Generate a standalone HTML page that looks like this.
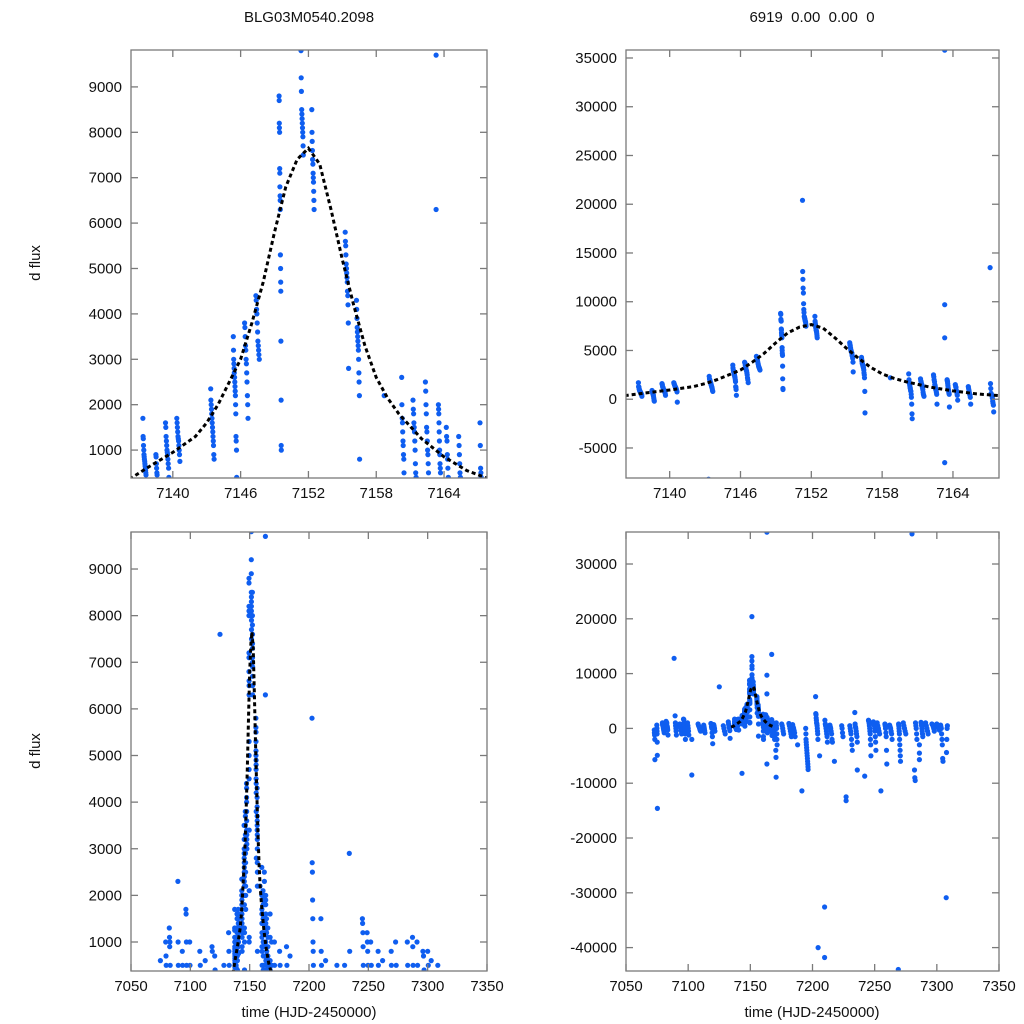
<!DOCTYPE html>
<html><head><meta charset="utf-8"><style>
html,body{margin:0;padding:0;background:#fff;width:1024px;height:1024px;overflow:hidden;}
svg{display:block;font-family:"Liberation Sans",Arial,sans-serif;overflow:hidden;}
</style></head><body>
<svg id="fig" width="1024" height="1024" viewBox="0 0 1024 1024" xmlns="http://www.w3.org/2000/svg">
<text x="309" y="22" text-anchor="middle" font-size="15" fill="#111">BLG03M0540.2098</text>
<text x="812" y="22" text-anchor="middle" font-size="15" fill="#111" xml:space="preserve">6919  0.00  0.00  0</text>
<text transform="translate(40,263) rotate(-90)" text-anchor="middle" font-size="15" fill="#111">d flux</text>
<text transform="translate(40,751) rotate(-90)" text-anchor="middle" font-size="15" fill="#111">d flux</text>
<text x="309" y="1017" text-anchor="middle" font-size="15" fill="#111">time (HJD-2450000)</text>
<text x="812" y="1017" text-anchor="middle" font-size="15" fill="#111">time (HJD-2450000)</text>
</svg>
<script>
// ---- data ----
const groupTime = [7137.5,7138.6,7139.5,7140.5,7143.3,7143.5,7145.5,7146.5,7147.5,7149.5,7151.4,7152.4,7155.4,7156.4,7158.7,7160.4,7161.4,7162.5,7163.3,7163.6,7164.3,7165.4,7167.3,
 7073,7075,7080,7083,7088.7,7090,7094,7097,7100,7102.9,7109,7113,7119,7121,7125,7129,7133,
 7169,7171,7176,7182,7185,7188,7191.5,7195.5,7203.5,7205.7,7209.7,7211,7215,7217.6,7224,7227,7231,7235,7236,7242,7246,7250,7253,7255,7259,7263,7269,7270,7274,7280,7283,7286,7288,7292,7297,7301,7304,7308];
const groupSpan = [0.3,0.2,0.3,0.3,0,0.3,0.3,0.3,0.3,0.2,0.3,0.2,0.3,0.3,0,0.3,0.3,0.3,0,0.2,0.2,0.2,0.3,
 0.5,0.5,1.5,1.5,0,1,1.5,1.5,1,0,2,1,1.5,1,0,1.5,1.5,
 1,1,1.5,2,2,0,0,2,2,0,0,2,2,0,1,0,2,2,0,0,2,2,2,0,1.5,2,0,1.5,2,0,2,0,1.5,2,2,2,2,1];
const groupFlux = [
 [1700,1300,1250,1100,1000,900,850,800,750,700,650,600,550,500,450,300],
 [900,850,700,600,500,450,300,100,-100,-200],
 [1600,1500,1300,1200,1100,1000,950,900,800,700,600,400],
 [1700,1600,1500,1400,1300,1250,1200,1100,1000,900,750,-300],
 [-8200],
 [2350,2100,2000,1900,1800,1700,1600,1500,1400,1300,1200,1100,900,800],
 [3500,3200,3000,2900,2800,2700,2600,2500,2400,2300,2200,2000,1800,1300,1200,1000,400],
 [3800,3700,3500,3300,3200,3000,2900,2700,2500,2200,2000,1700],
 [4400,4300,4100,4000,3800,3600,3400,3300,3200,3100,3000],
 [8800,8700,8200,8100,8000,7200,7100,6800,6600,6500,6300,5300,5000,4700,4500,3400,2100,1100,1000],
 [20400,13100,12300,11400,10900,9800,9200,8900,8500,8400,8300,8200,8100,8000,7900,7700,7500],
 [8500,8000,7800,7600,7400,7300,7100,7000,6900,6700,6500,6300],
 [5800,5600,5500,5300,5100,5000,4900,4800,4700,4500,4400,4200,3800,2800],
 [4300,4100,3900,3700,3600,3500,3400,3300,3200,3000,2700,2500,2200,800,-1400],
 [2200],
 [2600,2000,1700,1600,1400,1200,1100,900,800,500,200,-500,-1500,-2000],
 [2100,1900,1800,1600,1500,1400,1200,1000,700,500,400,300],
 [2500,2300,2000,1800,1500,1400,1200,1000,900,700,500,-500],
 [35800,6300,9700,-6500],
 [2000,1900,1800,1600,1400,1200,1000,900,700,600,500,-800],
 [1500,1300,1200,900,800,600,400,-100],
 [1300,1100,900,700,500,400,200,-500],
 [13500,1600,1100,600,500,400,300,100,-200,-400,-600,-1300],
 [-300,-800,-1200,-2000,-5700],
 [600,0,-500,-1000,-2500,-4900,-14600],
 [1000,700,500,300,0,-300,-500,-800],
 [1300,1100,900,1000,500,300,0,-300,-1200],
 [12800],
 [2300,1000,500,0,-500,-1200],
 [800,500,300,0,-300,-500,-1000],
 [1700,1600,1000,500,0,-500,-1000,-2000],
 [1000,500,0,-500,-1200],
 [-8500,-2000],
 [800,500,300,0,-300,-500],
 [600,300,0,-400,-800],
 [900,800,300,0,-800,-1500,-2800],
 [700,400,0,-500],
 [7600],
 [500,0,-500,-1000],
 [1200,800,500,200,0,-400,-1800],
 [1000,500,0,-500,-1000,-1500,-2000],
 [-4000,-5300,-8900,1000,500,0,-1000,-2000,-3000],
 [800,500,0,-500,-1000],
 [900,500,0,-500,-1000,-1500],
 [700,300,0,-400,-800,-1500],
 [-3000],
 [-11400],
 [0,-1000,-2000,-2500,-3000,-3500,-4000,-4500,-5000,-5500,-6000,-6500,-7000,-7500],
 [5800,2700,2500,1900,1500,1000,800,500,0,-500,-1000,-2000,-40000],
 [-5000],
 [-32600,-41800],
 [1500,800,500,0,-500,-1000,-1500,-2500],
 [600,300,0,-500,-1000,-2000,-2500],
 [-6000],
 [500,0,-800,-1500],
 [-12500,-13200],
 [500,0,-500,-1000,-2000,-3000,-4000],
 [2900,800,300,0,-500,-1000,-1500,-2500],
 [-7600],
 [-8700],
 [1500,1400,1200,900,500,0,-500,-1000,-2000,-3000,-5000],
 [1200,1000,800,500,0,-500,-1500,-2500,-4000],
 [1000,500,0,-500,-1000],
 [-11400],
 [800,500,0,-800,-1500,-4000,-6500],
 [600,300,0,-500,-1000,-2000],
 [-44000],
 [800,500,0,-500,-1000,-2000,-3000,-4000,-5000,-6000],
 [1000,500,0,-500,-1000],
 [35500],
 [-7600,-9000,-9500,1000,500,0,-1000,-2000],
 [-5700,-4500,-3000],
 [1100,900,500,0,-500,-1000,-1500],
 [1000,500,0,-500,-1000],
 [800,700,400,0,-500],
 [800,500,200,0,-300],
 [600,300,0,-1000,-2000,-3000,-5500,-6000],
 [-30900,-4400,-2000,0,500]
];
// fit curve
const fitTime = [7134.5,7136.3,7138,7140,7142,7143,7144,7145,7146,7147,7148,7149,7150,7151,7152,7153,7154,7155,7156,7157,7158,7159,7160,7162,7164,7166,7167.8];
const fitFlux = [250,380,650,950,1300,1600,2000,2500,3000,3800,4700,5800,6800,7400,7650,7300,6300,5200,4200,3300,2600,2150,1800,1250,850,550,380];

const panels = [
 {name:'top-left',x0:131,x1:487,y0:50,y1:478,tmin:7136.3,tmax:7167.8,vmin:385,vmax:9813,xt:[7140,7146,7152,7158,7164],yt:[1000,2000,3000,4000,5000,6000,7000,8000,9000]},
 {name:'top-right',x0:626,x1:999,y0:50,y1:478,tmin:7136.3,tmax:7167.9,vmin:-8080,vmax:35820,xt:[7140,7146,7152,7158,7164],yt:[-5000,0,5000,10000,15000,20000,25000,30000,35000]},
 {name:'bottom-left',x0:131,x1:487,y0:532,y1:971,tmin:7050,tmax:7350,vmin:378,vmax:9794,xt:[7050,7100,7150,7200,7250,7300,7350],yt:[1000,2000,3000,4000,5000,6000,7000,8000,9000]},
 {name:'bottom-right',x0:626,x1:999,y0:532,y1:971,tmin:7050,tmax:7350,vmin:-44270,vmax:35840,xt:[7050,7100,7150,7200,7250,7300,7350],yt:[-40000,-30000,-20000,-10000,0,10000,20000,30000]}
];
const NS='http://www.w3.org/2000/svg';
const svg=document.getElementById('fig');
function mk(tag,attrs,parent){const e=document.createElementNS(NS,tag);for(const k in attrs)e.setAttribute(k,attrs[k]);(parent||svg).appendChild(e);return e;}
panels.forEach((p,pi)=>{
 const sx=t=>p.x0+(t-p.tmin)/(p.tmax-p.tmin)*(p.x1-p.x0);
 const sy=v=>p.y1-(v-p.vmin)/(p.vmax-p.vmin)*(p.y1-p.y0);
 const g=mk('g',{});
 
 
 const cp=mk('clipPath',{id:'clip'+pi},g);
 mk('rect',{x:p.x0,y:p.y0,width:p.x1-p.x0,height:p.y1-p.y0},cp);
 const pts=mk('g',{'clip-path':'url(#clip'+pi+')'},g);
 
 
 groupTime.forEach((t,gi)=>{
  const vals=groupFlux[gi];const n=vals.length;
  vals.forEach((v,i)=>{
   const tt=t+(n>1?groupSpan[gi]*(i/(n-1)-0.5):0);
   const cx=sx(tt), cy=sy(v);
   if(cx<p.x0-3||cx>p.x1+3||cy<p.y0-3||cy>p.y1+3) return;
   const c=mk('circle',{cx:cx.toFixed(1),cy:cy.toFixed(1),r:2.6,fill:'#0f5ef0'},pts);
   
   
  });
 });
 let d='';fitTime.forEach((t,i)=>{
  const x=Math.max(p.x0,Math.min(p.x1,sx(t)));
  const y=Math.max(p.y0,Math.min(p.y1+2,sy(fitFlux[i])));
  d+=(d?'L':'M')+x.toFixed(1)+','+y.toFixed(1);
 });
 const fit=mk('path',{d:d,fill:'none',stroke:'#000','stroke-width':3,'stroke-dasharray':'4 3','clip-path':'url(#clip'+pi+')'},g);
 
 
 const fr=mk('rect',{x:p.x0,y:p.y0,width:p.x1-p.x0,height:p.y1-p.y0,fill:'none',stroke:'#7a7a7a','stroke-width':1.3},g);
 
 
 p.xt.forEach(t=>{
  const x=sx(t);
  mk('line',{x1:x,x2:x,y1:p.y1,y2:p.y1-7,stroke:'#7a7a7a','stroke-width':1.3},g);
  mk('line',{x1:x,x2:x,y1:p.y0,y2:p.y0+7,stroke:'#7a7a7a','stroke-width':1.3},g);
  const lb=mk('text',{x:x,y:p.y1+20,'text-anchor':'middle','font-size':15,fill:'#111'},g);
  lb.textContent=t;
  
  
 });
 p.yt.forEach(v=>{
  const y=sy(v);
  mk('line',{x1:p.x0,x2:p.x0+7,y1:y,y2:y,stroke:'#7a7a7a','stroke-width':1.3},g);
  mk('line',{x1:p.x1,x2:p.x1-7,y1:y,y2:y,stroke:'#7a7a7a','stroke-width':1.3},g);
  const lb=mk('text',{x:p.x0-9,y:y+5,'text-anchor':'end','font-size':15,fill:'#111'},g);
  lb.textContent=v;
  
  
 });
});
</script>
</body></html>
